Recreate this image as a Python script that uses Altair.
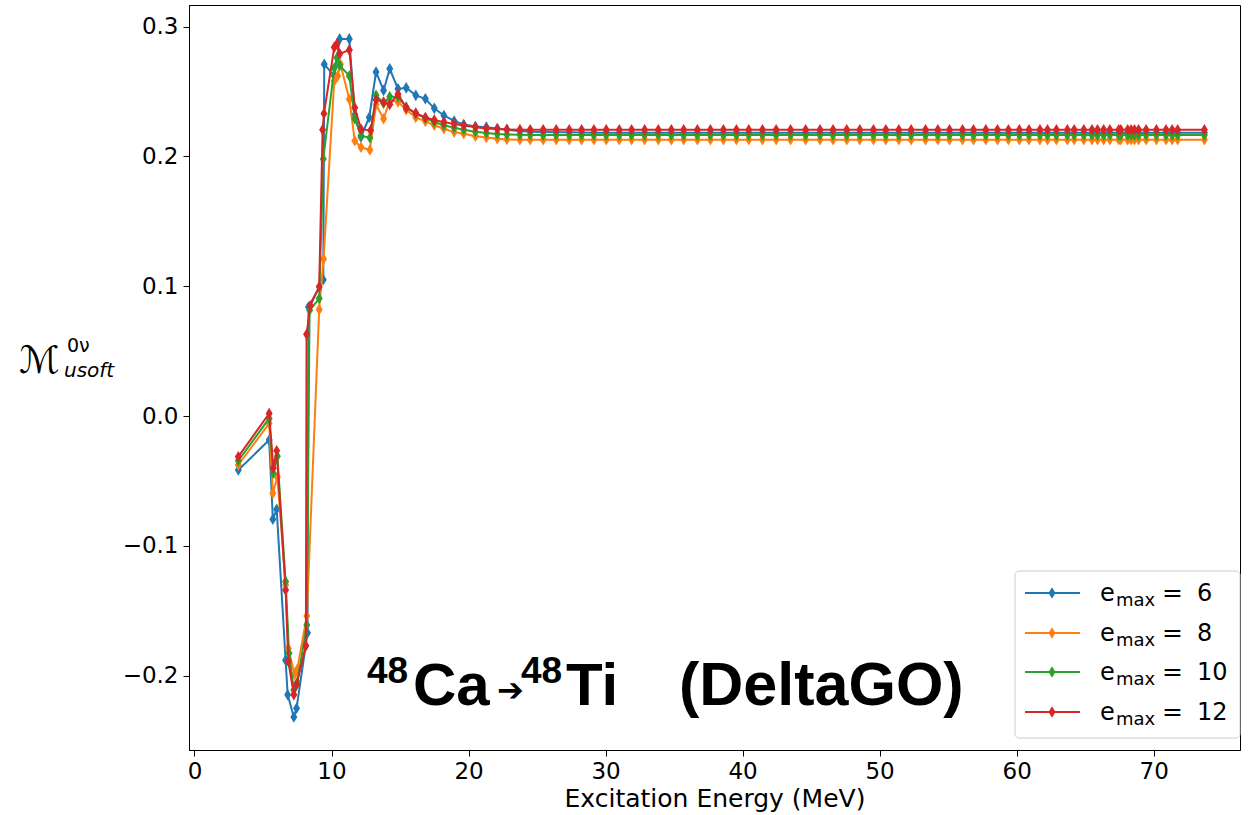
import altair as alt
import pandas as pd

# ---------------- data ----------------
emax_labels = ["6", "8", "10", "12"]
line_colors = ["#1f77b4", "#ff7f0e", "#2ca02c", "#d62728"]

energy_early_6 = [3.2, 5.45, 5.72, 6.0, 6.65, 6.8, 7.25, 7.45, 8.25, 8.32, 9.4, 9.47, 10.2, 10.6, 11.3,
                  11.7, 12.15, 12.75, 13.25, 13.8, 14.25, 14.85, 15.45, 16.15, 16.85, 17.5, 18.2, 18.95,
                  19.65, 20.5, 21.3]
m_early_6 = [-0.0415, -0.0185, -0.0795, -0.0718, -0.188, -0.2146, -0.2318, -0.225, -0.167, 0.084, 0.105,
             0.271, 0.262, 0.2905, 0.2905, 0.232, 0.215, 0.230, 0.265, 0.2508, 0.2675, 0.252, 0.2528,
             0.247, 0.2444, 0.237, 0.2315, 0.2273, 0.2246, 0.223, 0.2225]

energy_early_8 = [3.2, 5.45, 5.72, 6.05, 6.65, 6.85, 7.3, 7.5, 8.2, 9.1, 9.42, 10.2, 10.45, 10.65, 11.3,
                  11.7, 12.15, 12.8, 13.25, 13.8, 14.25, 14.85, 15.45, 16.15, 16.85, 17.5, 18.2, 18.95,
                  19.65, 20.5, 21.3]
m_early_8 = [-0.0377, -0.0056, -0.0595, -0.047, -0.130, -0.179, -0.199, -0.195, -0.154, 0.082, 0.121,
             0.258, 0.262, 0.271, 0.244, 0.212, 0.207, 0.205, 0.240, 0.229, 0.243, 0.242, 0.236, 0.230,
             0.227, 0.224, 0.2213, 0.2187, 0.2175, 0.2155, 0.2145]

energy_early_10 = [3.2, 5.45, 5.75, 6.05, 6.65, 6.9, 7.25, 7.5, 8.2, 8.4, 9.1, 9.4, 10.2, 10.4, 10.6, 11.3,
                   11.7, 12.15, 12.8, 13.25, 13.8, 14.25, 14.85, 15.45, 16.15, 16.85, 17.5, 18.2, 18.95,
                   19.65, 20.5, 21.3]
m_early_10 = [-0.0344, -0.0018, -0.044, -0.031, -0.1275, -0.1826, -0.211, -0.205, -0.161, 0.0815, 0.0905,
              0.198, 0.268, 0.276, 0.270, 0.262, 0.229, 0.216, 0.2144, 0.247, 0.241, 0.246, 0.246, 0.238,
              0.233, 0.2295, 0.2265, 0.224, 0.222, 0.2205, 0.219, 0.218]

energy_early_12 = [3.2, 5.45, 5.75, 6.0, 6.65, 6.85, 7.25, 7.45, 8.13, 8.18, 8.45, 9.1, 9.35, 9.45, 10.2,
                   10.4, 10.6, 11.3, 11.7, 12.15, 12.85, 13.25, 13.8, 14.25, 14.85, 15.45, 16.15, 16.85,
                   17.5, 18.2, 18.95, 19.65, 20.5, 21.3]
m_early_12 = [-0.0313, 0.002, -0.040, -0.0267, -0.134, -0.189, -0.2146, -0.207, -0.177, 0.063, 0.085,
              0.0995, 0.2205, 0.233, 0.284, 0.2867, 0.279, 0.282, 0.2375, 0.221, 0.220, 0.2436, 0.2418,
              0.240, 0.248, 0.2375, 0.2333, 0.230, 0.228, 0.2264, 0.225, 0.2238, 0.2225, 0.2215]

energy_tail = [22.1, 22.8, 23.75, 24.5, 25.45, 26.4, 27.35, 28.25, 29.15, 30.05, 31.0, 31.9, 32.85, 33.85,
               34.8, 35.7, 36.7, 37.65, 38.6, 39.55, 40.45, 41.45, 42.45, 43.5, 44.6, 45.65, 46.6, 47.6,
               48.55, 49.55, 50.45, 51.4, 52.3, 53.35, 54.25, 55.1, 56.05, 56.85, 57.75, 58.6, 59.4, 60.2,
               60.9, 61.7, 62.25, 62.9, 63.7, 64.2, 64.9, 65.5, 65.9, 66.35, 66.8, 67.45, 67.6, 68.1,
               68.35, 68.6, 68.9, 69.45, 70.2, 70.9, 71.35, 71.75, 73.7]

m_tail_6 = [0.2215, 0.2205, 0.2195, 0.2190, 0.2188, 0.2186, 0.2185, 0.2184, 0.2183, 0.2183, 0.2183, 0.2183,
            0.2183, 0.2183, 0.2183, 0.2183, 0.2183, 0.2183, 0.2183, 0.2183, 0.2183, 0.2183, 0.2183, 0.2183,
            0.2183, 0.2183, 0.2183, 0.2183, 0.2183, 0.2183, 0.2183, 0.2183, 0.2183, 0.2183, 0.2183, 0.2183,
            0.2183, 0.2183, 0.2183, 0.2183, 0.2183, 0.2183, 0.2183, 0.2183, 0.2183, 0.2183, 0.2183, 0.2183,
            0.2183, 0.2183, 0.2183, 0.2183, 0.2183, 0.2183, 0.2183, 0.2183, 0.2183, 0.2183, 0.2183, 0.2183,
            0.2183, 0.2183, 0.2183, 0.2183, 0.2183]
m_tail_8 = [0.2136, 0.2131, 0.2129, 0.2128, 0.2128, 0.2128, 0.2128, 0.2128, 0.2128, 0.2128, 0.2128, 0.2128,
            0.2128, 0.2128, 0.2128, 0.2128, 0.2128, 0.2128, 0.2128, 0.2128, 0.2128, 0.2128, 0.2128, 0.2128,
            0.2128, 0.2128, 0.2128, 0.2128, 0.2128, 0.2128, 0.2128, 0.2128, 0.2128, 0.2128, 0.2128, 0.2128,
            0.2128, 0.2128, 0.2128, 0.2128, 0.2128, 0.2128, 0.2128, 0.2128, 0.2128, 0.2128, 0.2128, 0.2128,
            0.2128, 0.2128, 0.2128, 0.2128, 0.2128, 0.2128, 0.2128, 0.2128, 0.2128, 0.2128, 0.2128, 0.2128,
            0.2128, 0.2128, 0.2128, 0.2128, 0.2128]
m_tail_10 = [0.2172, 0.2168, 0.2166, 0.2165, 0.2164, 0.2164, 0.2164, 0.2164, 0.2164, 0.2164, 0.2164, 0.2164,
             0.2164, 0.2164, 0.2164, 0.2164, 0.2164, 0.2164, 0.2164, 0.2164, 0.2164, 0.2164, 0.2164, 0.2164,
             0.2164, 0.2164, 0.2164, 0.2164, 0.2164, 0.2164, 0.2164, 0.2164, 0.2164, 0.2164, 0.2164, 0.2164,
             0.2164, 0.2164, 0.2164, 0.2164, 0.2164, 0.2164, 0.2164, 0.2164, 0.2164, 0.2164, 0.2164, 0.2164,
             0.2164, 0.2164, 0.2164, 0.2164, 0.2164, 0.2164, 0.2164, 0.2164, 0.2164, 0.2164, 0.2164, 0.2164,
             0.2164, 0.2164, 0.2164, 0.2164, 0.2164]
m_tail_12 = [0.2210, 0.2208, 0.2206, 0.2205, 0.2205, 0.2205, 0.2205, 0.2205, 0.2205, 0.2205, 0.2205, 0.2205,
             0.2205, 0.2205, 0.2205, 0.2205, 0.2205, 0.2205, 0.2205, 0.2205, 0.2205, 0.2205, 0.2205, 0.2205,
             0.2205, 0.2205, 0.2205, 0.2205, 0.2205, 0.2205, 0.2205, 0.2205, 0.2205, 0.2205, 0.2205, 0.2205,
             0.2205, 0.2205, 0.2205, 0.2205, 0.2205, 0.2205, 0.2205, 0.2205, 0.2205, 0.2205, 0.2205, 0.2205,
             0.2205, 0.2205, 0.2205, 0.2205, 0.2205, 0.2205, 0.2205, 0.2205, 0.2205, 0.2205, 0.2205, 0.2205,
             0.2205, 0.2205, 0.2205, 0.2205, 0.2205]

x_ticks = [0, 10, 20, 30, 40, 50, 60, 70]
y_ticks = [-0.2, -0.1, 0.0, 0.1, 0.2, 0.3]

# ---------------- build table ----------------
series = [
    ("6", energy_early_6 + energy_tail, m_early_6 + m_tail_6),
    ("8", energy_early_8 + energy_tail, m_early_8 + m_tail_8),
    ("10", energy_early_10 + energy_tail, m_early_10 + m_tail_10),
    ("12", energy_early_12 + energy_tail, m_early_12 + m_tail_12),
]
rows = []
for lab, xs, ys in series:
    for i, (xv, yv) in enumerate(zip(xs, ys)):
        rows.append({"emax": lab, "E": xv, "M": yv, "idx": i})
df = pd.DataFrame(rows)

# ---------------- layout ----------------
PL, PT = 189, 5          # plot origin in page pixels
W, H = 1051, 745
FONT = "DejaVu Sans"

x_scale = alt.Scale(domain=[-0.4, 76.3], nice=False, zero=False)
y_scale = alt.Scale(domain=[-0.2572, 0.3166], nice=False, zero=False)
x_axis = alt.Axis(values=x_ticks, format="d", title="Excitation Energy (MeV)", grid=False,
                  labelFontSize=23, titleFontSize=25, labelFont=FONT, titleFont=FONT,
                  titleFontWeight="normal", tickSize=6, labelPadding=4, titlePadding=3,
                  domainColor="black", tickColor="black", labelColor="black", titleColor="black")
y_axis = alt.Axis(values=y_ticks, format=".1f", title=None, grid=False,
                  labelFontSize=23, labelFont=FONT, tickSize=6, labelPadding=5,
                  domainColor="black", tickColor="black", labelColor="black")

diamond = "M0,-1L0.6,0L0,1L-0.6,0Z"
MSIZE = 135

layers = []
for lab, col in zip(emax_labels, line_colors):
    base = alt.Chart(df).transform_filter(alt.datum.emax == lab)
    ln = base.mark_line(color=col, strokeWidth=2).encode(
        x=alt.X("E:Q", scale=x_scale, axis=x_axis),
        y=alt.Y("M:Q", scale=y_scale, axis=y_axis),
        order="idx:Q",
    )
    pt = base.mark_point(shape=diamond, filled=True, color=col, size=MSIZE, opacity=1).encode(
        x=alt.X("E:Q", scale=x_scale, axis=x_axis),
        y=alt.Y("M:Q", scale=y_scale, axis=y_axis),
    )
    layers += [ln, pt]


def txt(s, X, Y, size, weight="normal", style="normal", font=FONT, align="left"):
    return alt.Chart(pd.DataFrame({"t": [s]})).mark_text(
        font=font, fontSize=size, fontWeight=weight, fontStyle=style, align=align,
        baseline="alphabetic", color="black",
    ).encode(text="t:N", x=alt.value(X - PL), y=alt.value(Y - PT))


# y-axis label  M^{0nu}_{usoft}
layers.append(txt("\u2133", 19, 373, 38))
layers.append(txt("0\u03bd", 67, 352, 19))
layers.append(txt("usoft", 64, 377, 20, style="italic"))

# legend box
legend_box = alt.Chart(pd.DataFrame({"a": [0]})).mark_rect(
    fill="white", stroke="#cccccc", strokeWidth=1, cornerRadius=4
).encode(x=alt.value(1015 - PL), x2=alt.value(1240 - PL), y=alt.value(571 - PT), y2=alt.value(738 - PT))
layers.append(legend_box)

row_y = [593, 633, 672, 712]
for lab, col, ry in zip(emax_labels, line_colors, row_y):
    layers.append(alt.Chart(pd.DataFrame({"a": [0]})).mark_rule(color=col, strokeWidth=2).encode(
        x=alt.value(1025 - PL), x2=alt.value(1080 - PL), y=alt.value(ry - PT)))
    layers.append(alt.Chart(pd.DataFrame({"a": [0]})).mark_point(
        shape=diamond, filled=True, color=col, size=MSIZE, opacity=1).encode(
        x=alt.value(1052 - PL), y=alt.value(ry - PT)))
    layers.append(txt("e", 1100, ry + 8, 24))
    layers.append(txt("max", 1116, ry + 13, 18))
    layers.append(txt("=", 1162, ry + 8, 25))
    layers.append(txt(lab, 1197, ry + 8, 24))

# big annotation
BOLD = "Liberation Sans"
layers.append(txt("48", 367, 683, 37, weight="bold", font=BOLD))
layers.append(txt("Ca", 413, 705, 60, weight="bold", font=BOLD))
layers.append(txt("\u2794", 497, 701, 32, font="DejaVu Sans"))
layers.append(txt("48", 521, 683, 37, weight="bold", font=BOLD))
layers.append(txt("Ti", 566, 705, 60, weight="bold", font=BOLD))
layers.append(txt("(DeltaGO)", 679, 705, 61, weight="bold", font=BOLD))

chart = alt.layer(*layers).properties(
    width=W, height=H,
    padding={"left": PL, "top": PT, "right": 1249 - PL - W, "bottom": 815 - PT - H},
    autosize=alt.AutoSizeParams(type="none"),
    background="white",
).configure_view(stroke="black", strokeWidth=1)

chart.save("out.html", embed_options={"renderer": "svg", "actions": False})
